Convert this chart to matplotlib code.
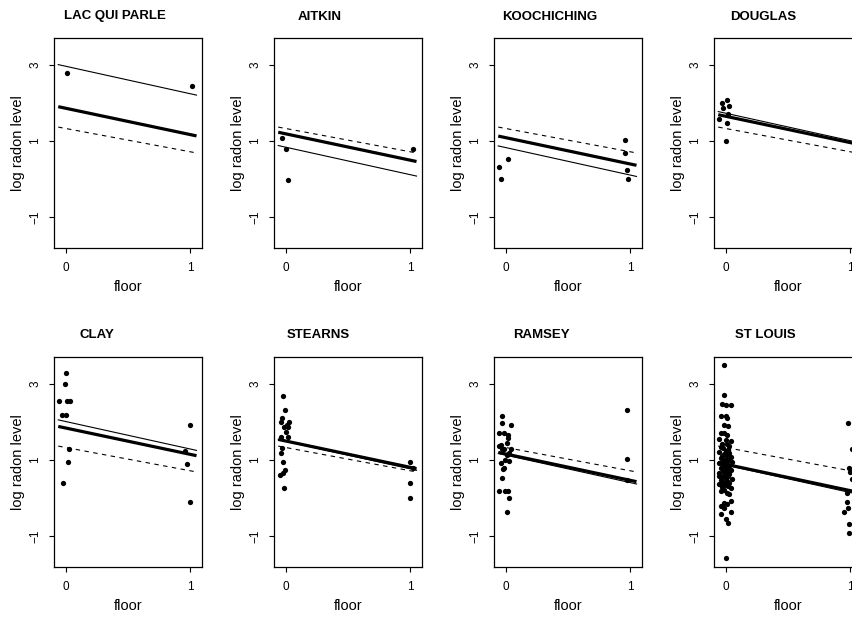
import matplotlib
matplotlib.use("Agg")
import matplotlib.pyplot as plt

plt.rcParams['font.family'] = ['Liberation Sans', 'DejaVu Sans']

counties = ["LAC QUI PARLE", "AITKIN", "KOOCHICHING", "DOUGLAS",
            "CLAY", "STEARNS", "RAMSEY", "ST LOUIS"]

# complete pooling (dashed), no pooling (thin), multilevel (thick)
a_pool, b_pool = 1.33, -0.61
b_nopool = -0.72
b_multi = -0.69
a_nopool = [2.96, 0.84, 0.83, 1.73, 2.01, 1.49, 1.13, 0.87]
a_multi = [1.86, 1.19, 1.09, 1.65, 1.84, 1.50, 1.16, 0.89]

# jittered floor and log radon
x_lqp = [0.01, 1.01]
y_lqp = [2.78, 2.43]
x_ait = [-0.03, 0.0, 0.02, 1.02]
y_ait = [1.07, 0.78, -0.01, 0.79]
x_koo = [-0.05, -0.04, 0.02, 0.96, 0.96, 0.97, 0.98]
y_koo = [0.32, 0.0, 0.54, 1.03, 0.68, 0.25, 0.0]
x_dou = [-0.05, -0.03, -0.02, 0.01, 0.03, 0.02, 0.01, 0.0]
y_dou = [1.58, 2.01, 1.86, 2.08, 1.92, 1.70, 1.48, 0.99]
x_cla = [0.0, -0.005, -0.05, 0.01, 0.035, -0.03, 0.0, 0.03, 0.02, -0.02,
         1.0, 0.96, 0.97, 1.0]
y_cla = [3.28, 2.98, 2.56, 2.56, 2.56, 2.19, 2.18, 1.28, 0.96, 0.41,
         1.93, 1.25, 0.91, -0.10]
x_ste = [-0.025, -0.005, -0.03, -0.04, 0.03, 0.01, -0.01, 0.02, 0.0, -0.04,
         0.02, -0.03, -0.04, -0.02, -0.005, -0.025, -0.045, -0.01,
         1.0, 1.02, 1.0, 1.0]
y_ste = [2.67, 2.31, 2.11, 2.00, 2.00, 1.93, 1.86, 1.86, 1.74, 1.60,
         1.60, 1.31, 1.19, 0.96, 0.73, 0.67, 0.61, 0.26,
         0.96, 0.80, 0.40, 0.0]
x_ram = [-0.03, -0.03, 0.04, -0.05, -0.015, 0.015, 0.02, 0.01, -0.05, -0.04,
         -0.03, -0.01, 0.04, 0.03, 0.01, -0.005, 0.03, -0.04, -0.01, -0.02,
         -0.03, -0.05, -0.005, 0.02, 0.03, 0.01, 0.97, 0.97, 0.97]
y_ram = [2.16, 1.96, 1.92, 1.71, 1.71, 1.65, 1.58, 1.44, 1.36, 1.39,
         1.30, 1.28, 1.28, 1.19, 1.13, 1.01, 0.97, 0.92, 0.80, 0.76,
         0.54, 0.18, 0.18, 0.18, 0.01, -0.35, 2.32, 1.03, 0.48]
x_stl = [-0.01, -0.01, -0.03, 0.0, 0.04, -0.04, 0.0, 0.01, -0.01, 0.02,
         -0.04, -0.01, 0.01, -0.05, 0.0, 0.04, -0.03, 0.01, 0.03, -0.04,
         -0.02, 0.02, 0.0, -0.05, 0.03, -0.01, 0.01, -0.03, 0.04, -0.04,
         0.0, 0.02, -0.02, 0.05, -0.05, 0.01, -0.01, 0.03, -0.03, 0.02,
         -0.04, 0.0, 0.04, -0.02, 0.01, -0.05, 0.03, -0.01, 0.02, -0.03,
         0.0, 0.05, -0.04, 0.01, -0.02, 0.03, -0.05, 0.0, 0.02, -0.03,
         0.04, -0.01, -0.04, 0.01, 0.03, -0.02, 0.0, -0.05, 0.02, -0.03,
         0.04, -0.01, 0.01, -0.04, -0.01, 0.04, -0.04, 0.0, 0.02,
         0.0,
         0.98, 1.01, 0.99, 1.0, 1.01, 0.97, 0.97, 0.95, 0.98, 0.99, 0.99]
y_stl = [3.48, 2.70, 2.48, 2.45, 2.44, 2.16, 2.15, 2.11, 1.92, 1.88,
         1.72, 1.70, 1.66, 1.56, 1.53, 1.50, 1.43, 1.41, 1.38, 1.33,
         1.31, 1.27, 1.24, 1.22, 1.18, 1.16, 1.13, 1.10, 1.07, 1.05,
         1.02, 1.00, 0.97, 0.95, 0.92, 0.90, 0.87, 0.85, 0.83, 0.80,
         0.78, 0.76, 0.73, 0.71, 0.69, 0.66, 0.63, 0.61, 0.59, 0.56,
         0.53, 0.51, 0.49, 0.46, 0.43, 0.41, 0.38, 0.35, 0.32, 0.29,
         0.26, 0.22, 0.19, 0.15, 0.12, 0.92, 0.66, 0.58, 1.26, 0.35,
         -0.08, -0.12, -0.15, -0.20, -0.25, -0.36, -0.40, -0.53, -0.66,
         -1.57,
         1.97, 1.28, 0.80, 0.70, 0.51, 0.15, -0.09, -0.35, -0.25, -0.68, -0.90]

xs = [x_lqp, x_ait, x_koo, x_dou, x_cla, x_ste, x_ram, x_stl]
ys = [y_lqp, y_ait, y_koo, y_dou, y_cla, y_ste, y_ram, y_stl]

title_x_px = [115, 320, 550, 763, 97, 318, 541, 765]

W, H = 852, 617
fig = plt.figure(figsize=(W / 100, H / 100), dpi=100)

col_left = [54, 274, 494, 714]
row_top = [38, 357]
pw, ph = 148, 210
title_y_px = [16.5, 334.5]

for i, name in enumerate(counties):
    r, c = divmod(i, 4)
    left = col_left[c] / W
    bottom = 1 - (row_top[r] + ph) / H
    ax = fig.add_axes([left, bottom, pw / W, ph / H])
    ax.set_xlim(-0.094, 1.094)
    ax.set_ylim(-1.8, 3.7)
    xl = [-0.06, 1.05]
    ax.plot(xl, [a_pool + b_pool * v for v in xl], color='black', lw=0.8,
            ls=(0, (4, 4)))
    ax.plot(xl, [a_nopool[i] + b_nopool * v for v in xl], color='black', lw=0.8)
    ax.plot(xl, [a_multi[i] + b_multi * v for v in xl], color='black', lw=2.3,
            solid_capstyle='butt')
    ax.plot(xs[i], ys[i], 'o', color='black', markersize=3.8, markeredgewidth=0)
    ax.set_xticks([0, 1])
    ax.set_xticklabels(['0', '1'])
    ax.set_yticks([-1, 1, 3])
    ax.set_yticklabels(['\u22121', '1', '3'], rotation=90, va='center')
    ax.tick_params(axis='both', labelsize=8.5, length=3.5, width=0.8,
                   direction='out')
    ax.tick_params(axis='x', pad=6.5)
    ax.tick_params(axis='y', pad=5.5)
    for s in ax.spines.values():
        s.set_linewidth(0.9)
    ax.text(0.5, -39 / ph, 'floor', transform=ax.transAxes, ha='center',
            va='center', fontsize=10.5)
    ax.text(-36 / pw, 0.5, 'log radon level', transform=ax.transAxes,
            ha='center', va='center', rotation=90, fontsize=10.5)
    fig.text(title_x_px[i] / W, 1 - title_y_px[r] / H, name, ha='center',
             va='center', fontsize=9.5, fontweight='bold')

fig.savefig('out.png', dpi=100)
